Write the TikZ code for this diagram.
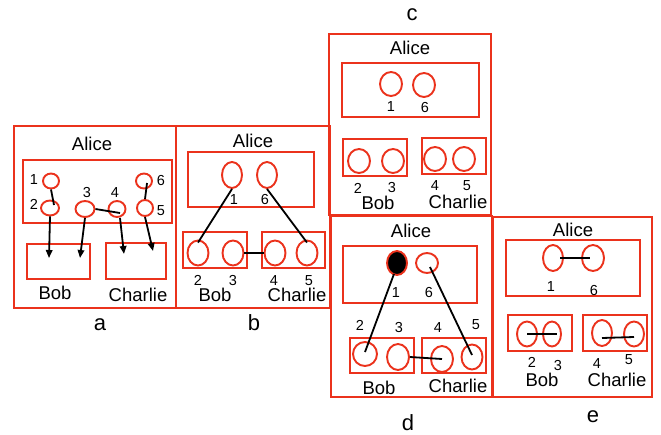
\documentclass[tikz,border=0pt]{standalone}
\usepackage{fontspec}
\setmainfont{Liberation Sans}
\usetikzlibrary{shapes.geometric,arrows.meta}
\definecolor{myred}{RGB}{235,50,28}
\tikzset{
  box/.style={draw=myred, line width=1.9pt},
  ell/.style 2 args={ellipse, draw=myred, line width=1.9pt, inner sep=0pt, minimum width=#1pt, minimum height=#2pt},
  con/.style={draw=black, line width=1.8pt},
  arr/.style={draw=black, line width=1.8pt, -{Triangle[length=8pt,width=6.5pt]}},
  nametxt/.style={font={\fontsize{18.5}{20}\selectfont}, inner sep=0pt, text height=13.2pt, text depth=0pt},
  numtxt/.style={font={\fontsize{14.5}{16}\selectfont}, inner sep=0pt, text height=10.4pt, text depth=0pt},
  labtxt/.style={font={\fontsize{22}{24}\selectfont}, inner sep=0pt, anchor=base}
}
\begin{document}
\begin{tikzpicture}[x=1pt,y=-1pt]
\useasboundingbox[fill=white] (0,0) rectangle (661,434);
% ---------- outer boxes
\draw[box] (14,126) rectangle (176,308);
\draw[box] (176,126) rectangle (330,308);
\draw[box] (329,34) rectangle (491,215);
\draw[box] (331,216) rectangle (492,397);
\draw[box] (493,217) rectangle (652,397);
% ---------- panel labels
\node[labtxt] (la) at (100,330) {a};
\node[labtxt] (lb) at (254,330) {b};
\node[labtxt] (lc) at (412,20) {c};
\node[labtxt] (ld) at (408,430) {d};
\node[labtxt] (le) at (593,422) {e};

% ================= panel a
\node[nametxt] (aA) at (92,144) {Alice};
\draw[box] (23,160) rectangle (172,223);
\draw[box] (27,244) rectangle (90,279);
\draw[box] (106,243) rectangle (166,279);
\node[nametxt] (aBob) at (55,293) {Bob};
\node[nametxt] (aCh) at (138,295) {Charlie};
\node[ell={16}{15}] (a1) at (51,181) {};
\node[ell={18}{15}] (a2) at (50,208) {};
\node[ell={19}{16}] (a3) at (85,209) {};
\node[ell={17}{16}] (a4) at (117,209) {};
\node[ell={16}{15}] (a6) at (144,181) {};
\node[ell={16}{16}] (a5) at (145,208) {};
\node[numtxt] (na1) at (34,179) {1};
\node[numtxt] (na2) at (34,204) {2};
\node[numtxt] (na3) at (87,192) {3};
\node[numtxt] (na4) at (115,192) {4};
\node[numtxt] (na6) at (161,180) {6};
\node[numtxt] (na5) at (161,210) {5};
\draw[con] (a1.south) -- ([xshift=4pt,yshift=3pt]a2.center);
\draw[con] ([xshift=3pt,yshift=-2pt]a6.center) -- (a5.north);
\draw[con] (a3.east) -- ([xshift=3pt,yshift=-4pt]a4.center);
\coordinate (ta2) at (49,258);
\coordinate (ta3) at (80,258);
\coordinate (ta4) at (124,254);
\coordinate (ta5) at (153,251);
\draw[arr] (a2.south) -- (ta2);
\draw[arr] (a3.south) -- (ta3);
\draw[arr] ([xshift=3pt]a4.south) -- (ta4);
\draw[arr] (a5.south) -- (ta5);

% ================= panel b
\node[nametxt] (bA) at (253,141) {Alice};
\draw[box] (188,152) rectangle (314,207);
\draw[box] (183,232) rectangle (247,268);
\draw[box] (262,232) rectangle (325,268);
\node[ell={20}{26}] (b1) at (232,175) {};
\node[ell={20}{26}] (b6) at (267,175) {};
\node[ell={21}{25}] (b2) at (198,253) {};
\node[ell={21}{25}] (b3) at (233,253) {};
\node[ell={21}{25}] (b4) at (275,253) {};
\node[ell={21}{25}] (b5) at (307,253) {};
\node[numtxt] (nb1) at (234,199) {1};
\node[numtxt] (nb6) at (265,199) {6};
\node[numtxt] (nb2) at (198,280) {2};
\node[numtxt] (nb3) at (233,280) {3};
\node[numtxt] (nb4) at (274,280) {4};
\node[numtxt] (nb5) at (309,280) {5};
\node[nametxt] (bBob) at (215,295) {Bob};
\node[nametxt] (bCh) at (297,295) {Charlie};
\draw[con] (b1.south) -- ([yshift=-3pt]b2.north);
\draw[con] (b6.south) -- ([yshift=-3pt]b5.north);
\draw[con] (b3) -- (b4);

% ================= panel c
\node[nametxt] (cA) at (410,48) {Alice};
\draw[box] (342,63) rectangle (479,117);
\draw[box] (343,139) rectangle (407,176);
\draw[box] (422,138) rectangle (486,174);
\node[ell={22}{24}] (c1) at (391,84) {};
\node[ell={22}{24}] (c6) at (424,85) {};
\node[ell={22}{24}] (c2) at (359,161) {};
\node[ell={22}{24}] (c3) at (393,161) {};
\node[ell={22}{24}] (c4) at (435,159) {};
\node[ell={22}{24}] (c5) at (464,159) {};
\node[numtxt] (nc1) at (391,106) {1};
\node[numtxt] (nc6) at (425,107) {6};
\node[numtxt] (nc2) at (358,188) {2};
\node[numtxt] (nc3) at (392,187) {3};
\node[numtxt] (nc4) at (435,185) {4};
\node[numtxt] (nc5) at (467,185) {5};
\node[nametxt] (cBob) at (378,203) {Bob};
\node[nametxt] (cCh) at (458,202) {Charlie};

% ================= panel d
\node[nametxt] (dA) at (411,231) {Alice};
\draw[box] (343,246) rectangle (477,303);
\draw[box] (350,338) rectangle (414,373);
\draw[box] (422,338) rectangle (486,373);
\node[ell={20}{24}, fill=black] (d1) at (397,263) {};
\node[ell={22}{20}] (d6) at (427,263) {};
\node[ell={24}{24}] (d2) at (365,354) {};
\node[ell={22}{26}] (d3) at (398,357) {};
\node[ell={22}{26}] (d4) at (442,359) {};
\node[ell={21}{25}] (d5) at (472,357) {};
\node[numtxt] (nd1) at (396,292) {1};
\node[numtxt] (nd6) at (429,292) {6};
\node[numtxt] (nd2) at (360,325) {2};
\node[numtxt] (nd3) at (399,327) {3};
\node[numtxt] (nd4) at (438,327) {4};
\node[numtxt] (nd5) at (476,324) {5};
\node[nametxt] (dBob) at (379,388) {Bob};
\node[nametxt] (dCh) at (458,386) {Charlie};
\draw[con] ([xshift=-3pt,yshift=2pt]d1.south) -- ([yshift=2pt]d2.center);
\draw[con] ([xshift=3pt,yshift=-4pt]d6.center) -- ([yshift=2pt]d5.center);
\draw[con] (d3.east) -- (d4.center);

% ================= panel e
\node[nametxt] (eA) at (573,230) {Alice};
\draw[box] (506,240) rectangle (640,296);
\draw[box] (508,315) rectangle (572,351);
\draw[box] (583,315) rectangle (647,351);
\node[ell={20}{26}] (e1) at (553,258) {};
\node[ell={22}{26}] (e6) at (593,258) {};
\node[ell={20}{25}] (e2) at (527,334) {};
\node[ell={18}{25}] (e3) at (552,334) {};
\node[ell={20}{26}] (e4) at (602,333) {};
\node[ell={20}{25}] (e5) at (634,334) {};
\node[numtxt] (ne1) at (551,286) {1};
\node[numtxt] (ne6) at (594,290) {6};
\node[numtxt] (ne2) at (532,362) {2};
\node[numtxt] (ne3) at (558,365) {3};
\node[numtxt] (ne4) at (597,363) {4};
\node[numtxt] (ne5) at (629,359) {5};
\node[nametxt] (eBob) at (542,380) {Bob};
\node[nametxt] (eCh) at (617,380) {Charlie};
\draw[con] ([xshift=7pt]e1.center) -- ([xshift=-3pt]e6.center);
\draw[con] (e2.center) -- ([xshift=5pt]e3.center);
\draw[con] ([yshift=-5pt]e4.center) -- ([yshift=-3pt]e5.center);
\end{tikzpicture}
\end{document}
